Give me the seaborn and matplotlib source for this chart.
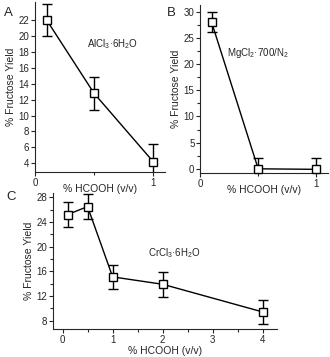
import matplotlib
matplotlib.use("Agg")
import matplotlib.pyplot as plt
import seaborn as sns
import pandas as pd
from matplotlib.ticker import MultipleLocator, FixedLocator

# ---- data ----
a_x = [0.1, 0.5, 1.0]
a_y = [22.0, 12.8, 4.2]
a_err = [2.0, 2.1, 2.2]

b_x = [0.1, 0.5, 1.0]
b_y = [28.0, 0.0, -0.1]
b_err = [1.9, 2.0, 2.1]

c_x = [0.1, 0.5, 1.0, 2.0, 4.0]
c_y = [25.2, 26.5, 15.1, 13.9, 9.4]
c_err = [2.0, 2.0, 2.0, 2.0, 2.0]

xlabel = "% HCOOH (v/v)"
ylabel = "% Fructose Yield"
labels = ["AlCl$_3$·6H$_2$O", "MgCl$_2$·700/N$_2$", "CrCl$_3$·6H$_2$O"]

sns.set_style("ticks")
plt.rcParams['font.family'] = ['Liberation Sans', 'DejaVu Sans']
plt.rcParams['mathtext.fontset'] = 'custom'
plt.rcParams['mathtext.rm'] = 'Liberation Sans'

W, H = 330, 357
fig = plt.figure(figsize=(W / 100, H / 100), dpi=100)


def px_axes(l, t, r, b):
    ax = fig.add_axes([l / W, 1 - b / H, (r - l) / W, (b - t) / H])
    ax.patch.set_alpha(0)
    return ax


def draw(ax, x, y, err, xpad):
    df = pd.DataFrame({"x": x, "y": y})
    ax.errorbar(x, y, yerr=err, fmt="none", ecolor="black", elinewidth=1.0,
                capsize=3.5, capthick=1.0, zorder=2, clip_on=True)
    sns.lineplot(data=df, x="x", y="y", ax=ax, color="black", linewidth=1.0,
                 marker="s", markersize=6, markerfacecolor="white",
                 markeredgecolor="black", markeredgewidth=1.0, zorder=3,
                 clip_on=False)
    for s in ["top", "right"]:
        ax.spines[s].set_visible(False)
    for s in ["left", "bottom"]:
        ax.spines[s].set_linewidth(0.8)
    ax.tick_params(axis="both", which="major", labelsize=7, length=3, width=0.8, pad=1)
    ax.tick_params(axis="both", which="minor", length=2, width=0.8)
    ax.set_xlabel(xlabel, fontsize=7.5, labelpad=xpad)
    ax.set_ylabel(ylabel, fontsize=7.5, labelpad=2)


axA = px_axes(35, 2, 165, 172)
draw(axA, a_x, a_y, a_err, -2.5)
axA.set_xlim(0, 1.1)
axA.set_ylim(2.9, 24.3)
axA.xaxis.set_major_locator(FixedLocator([0, 1]))
axA.xaxis.set_minor_locator(FixedLocator([0.5]))
axA.set_yticks([4, 6, 8, 10, 12, 14, 16, 18, 20, 22])
axA.text(0.6, 0.753, labels[0], transform=axA.transAxes, fontsize=7, ha="center", va="center")

axB = px_axes(200, 5, 328, 173)
draw(axB, b_x, b_y, b_err, -2.5)
axB.set_xlim(0, 1.1)
axB.set_ylim(-0.8, 31.3)
axB.xaxis.set_major_locator(FixedLocator([0, 1]))
axB.xaxis.set_minor_locator(FixedLocator([0.5]))
axB.yaxis.set_major_locator(MultipleLocator(5))
axB.yaxis.set_minor_locator(MultipleLocator(2.5))
axB.text(0.45, 0.714, labels[1], transform=axB.transAxes, fontsize=7, ha="center", va="center")

axC = px_axes(53, 193, 277, 329)
draw(axC, c_x, c_y, c_err, 1)
axC.set_xlim(-0.19, 4.28)
axC.set_ylim(6.65, 28.7)
axC.xaxis.set_major_locator(MultipleLocator(1))
axC.xaxis.set_minor_locator(MultipleLocator(0.5))
axC.yaxis.set_major_locator(MultipleLocator(4))
axC.yaxis.set_minor_locator(MultipleLocator(2))
axC.text(2.24, 19.0, labels[2], fontsize=7, ha="center", va="center")

fig.text(8 / W, 1 - 13 / H, "A", fontsize=9.5, ha="center", va="center")
fig.text(171 / W, 1 - 13 / H, "B", fontsize=9.5, ha="center", va="center")
fig.text(11 / W, 1 - 197 / H, "C", fontsize=9.5, ha="center", va="center")

fig.savefig("out.png", dpi=100)
